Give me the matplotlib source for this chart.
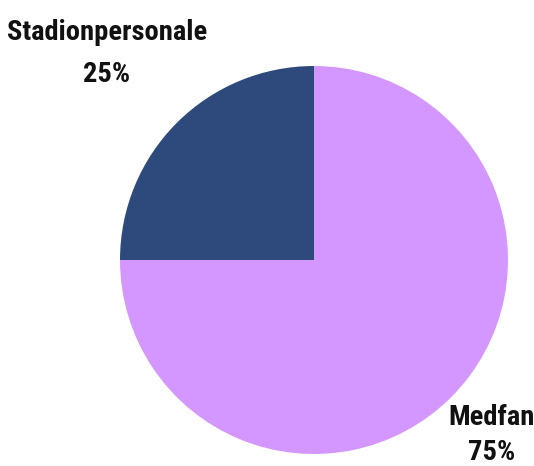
import matplotlib
matplotlib.use("Agg")
import matplotlib.pyplot as plt
from matplotlib import font_manager

categories = ["Medfan", "Stadionpersonale"]
values = [75, 25]
colors = ["#D496FF", "#2E4A7D"]

names = {f.name for f in font_manager.fontManager.ttflist}
fam = [f for f in ["Roboto Condensed", "Liberation Sans Narrow", "Roboto", "DejaVu Sans"] if f in names]
plt.rcParams['font.family'] = fam

W, H = 534, 466
fig = plt.figure(figsize=(W / 100, H / 100), dpi=100)
cx, cy, r = 314, 260, 194
ax = fig.add_axes([(cx - r) / W, (H - cy - r) / H, 2 * r / W, 2 * r / H])
ax.pie(values, colors=colors, startangle=90, counterclock=False,
       wedgeprops=dict(linewidth=0), radius=1)
ax.set_xlim(-1, 1)
ax.set_ylim(-1, 1)
ax.set_aspect('equal')
ax.axis('off')

# label positions: (x centre, name baseline, percent baseline) in pixels
label_pos = {"Stadionpersonale": (107, 40, 82), "Medfan": (492, 425, 460)}
for cat, val in zip(categories, values):
    x, y1, y2 = label_pos[cat]
    fig.text(x / W, 1 - y1 / H, cat, ha='center', va='baseline',
             fontsize=20.5, fontweight='bold', color='#111111')
    fig.text(x / W, 1 - y2 / H, f"{val}%", ha='center', va='baseline',
             fontsize=20.5, fontweight='bold', color='#111111')

fig.savefig("out.png", dpi=100)
